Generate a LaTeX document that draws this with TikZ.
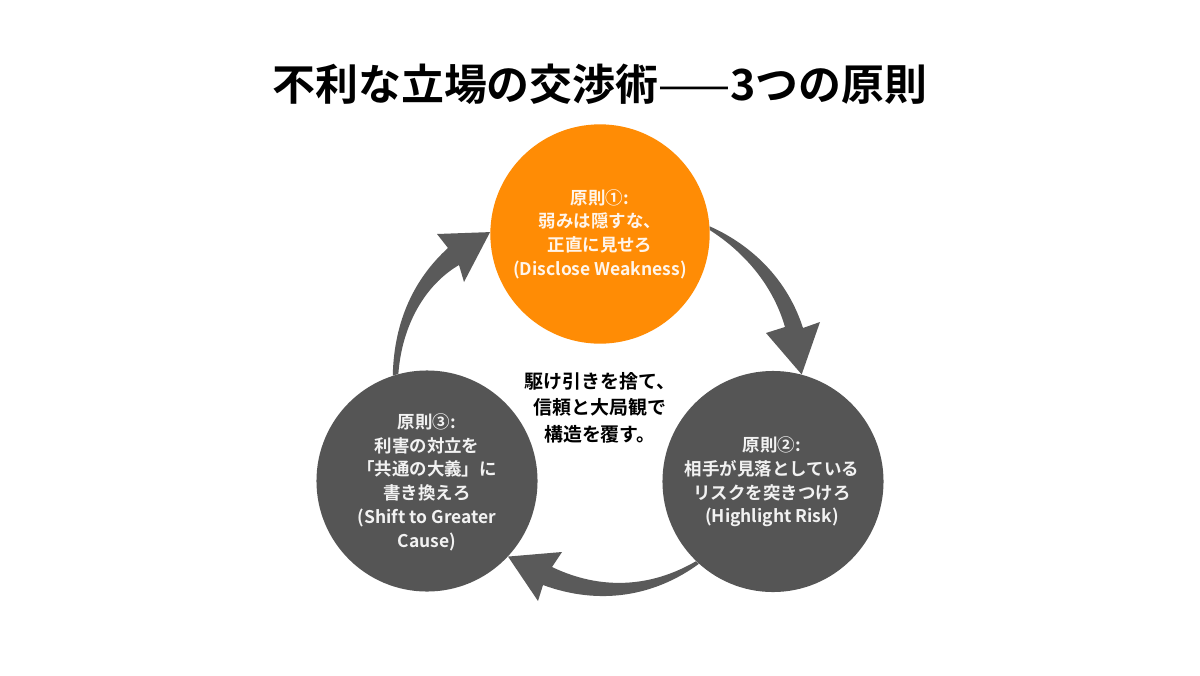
\documentclass[tikz,border=0pt]{standalone}
\usepackage{fontspec}
\setmainfont{Noto Sans CJK JP}
\newfontfamily\jpbold{Noto Sans CJK JP Bold}
\definecolor{orangec}{HTML}{FF8C05}
\definecolor{grayc}{HTML}{555555}
\definecolor{arrowc}{HTML}{5A5A5A}
\tikzset{
  disc/.style={circle,inner sep=0pt,minimum size=165.8pt,fill=#1},
  lab/.style={align=center,text=#1,font=\jpbold\fontsize{13.1}{17.8}\selectfont,inner sep=0pt},
  flow/.style={fill=arrowc,draw=none}
}
\begin{document}
\begin{tikzpicture}[x=0.75pt,y=-0.75pt]
\useasboundingbox (0,0) rectangle (1200,675);
\node[disc=orangec,minimum size=164.5pt] (c1) at (600,234) {};
\node[disc=grayc] (c2) at (773,481.5) {};
\node[disc=grayc] (c3) at (427,481) {};
\node[lab=white!92!orange] (t1) at (600,234) {原則①:\\弱みは隠すな、\\正直に見せろ\\(Disclose Weakness)};
\node[lab=white!95!black] (t2) at (772,482) {原則②:\\相手が見落としている\\リスクを突きつけろ\\(Highlight Risk)};
\node[lab=white!95!black] (t3) at (427,482) {原則③:\\利害の対立を\\「共通の大義」に\\書き換えろ\\(Shift to Greater\\Cause)};
\node[align=center,inner sep=0pt,font=\jpbold\fontsize{14.2}{19.9}\selectfont] (mid) at (600,407.5) {駆け引きを捨て、\\信頼と大局観で\\構造を覆す。};
\node[inner sep=0pt,font=\jpbold\fontsize{32.2}{38}\selectfont] (title) at (600,84) {不利な立場の交渉術{\normalfont ——}3つの原則};
% arrows
\fill[flow] (c1.4) .. controls (743,241) and (785,272) .. (803,328)
  -- (820,322) -- (c2.75) -- (766,333) -- (785,327)
  .. controls (772,282) and (741,250) .. (c1.2) -- cycle;
\fill[flow] (c2.-134) .. controls (650,588) and (600,590) .. (552,567)
  -- (562,552) -- (c3.-43) -- (538,601) -- (543,585)
  .. controls (600,606) and (655,596) .. (c2.-132) -- cycle;
\fill[flow] (c3.108) .. controls (394,320) and (415,278) .. (448,248)
  -- (437,234) -- (c1.179) -- (464,282) -- (459,265)
  .. controls (425,285) and (402,325) .. (c3.105) -- cycle;
\end{tikzpicture}
\end{document}
